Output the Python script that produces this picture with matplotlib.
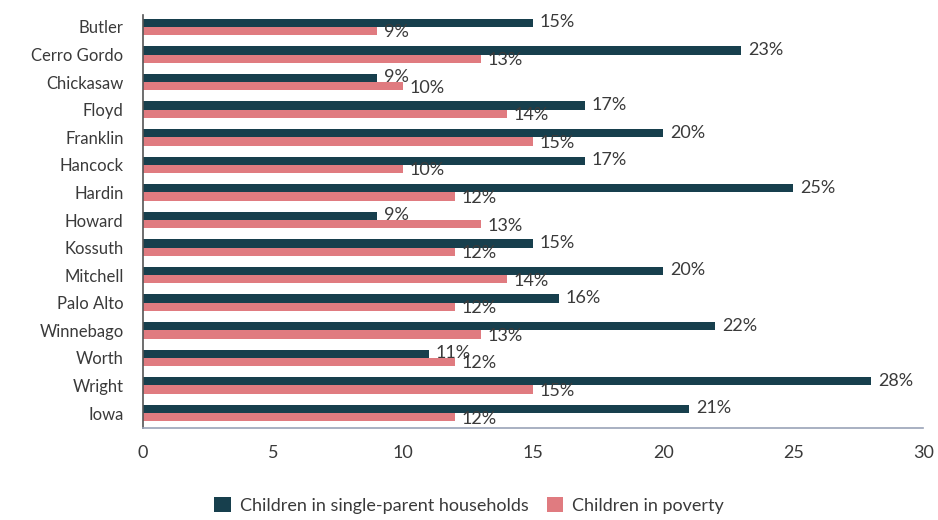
import numpy as np
import matplotlib.pyplot as plt
from matplotlib.patches import Patch

counties = ['Butler', 'Cerro Gordo', 'Chickasaw', 'Floyd', 'Franklin', 'Hancock',
            'Hardin', 'Howard', 'Kossuth', 'Mitchell', 'Palo Alto', 'Winnebago',
            'Worth', 'Wright', 'Iowa']
single_parent = [15, 23, 9, 17, 20, 17, 25, 9, 15, 20, 16, 22, 11, 28, 21]
poverty = [9, 13, 10, 14, 15, 10, 12, 13, 12, 14, 12, 13, 12, 15, 12]

dark = '#173f4d'
pink = '#e07b80'
text_color = '#3a3a3a'

plt.rcParams['font.family'] = ['Lato', 'DejaVu Sans']

fig = plt.figure(figsize=(9.38, 5.2), dpi=100)
ax = fig.add_axes([0.1525, 0.177, 0.832, 0.794])

y = np.arange(len(counties))
h = 0.3
ax.barh(y - h / 2, single_parent, height=h, color=dark, zorder=2)
ax.barh(y + h / 2, poverty, height=h, color=pink, zorder=2)

# value labels just past the end of each bar
for yi, a, b in zip(y, single_parent, poverty):
    ax.text(a + 0.25, yi - h / 2 - 0.02, f'{a}%', va='center', ha='left',
            fontsize=13, color=text_color, zorder=3)
    ax.text(b + 0.25, yi + h / 2 + 0.05, f'{b}%', va='center', ha='left',
            fontsize=13, color=text_color, zorder=3)

ax.set_xlim(0, 30)
ax.set_ylim(len(counties) - 0.46, -0.43)
ax.set_yticks(y)
ax.set_yticklabels(counties, fontsize=12, color=text_color)
ax.set_xticks([0, 5, 10, 15, 20, 25, 30])
ax.tick_params(axis='x', length=0, pad=12, labelsize=13, labelcolor=text_color)
ax.tick_params(axis='y', length=0, pad=14)

for side in ['top', 'right']:
    ax.spines[side].set_visible(False)
ax.spines['left'].set_color('#555555')
ax.spines['left'].set_linewidth(1.2)
ax.spines['bottom'].set_color('#9aa3b8')
ax.spines['bottom'].set_linewidth(1.2)

handles = [Patch(facecolor=dark, label='Children in single-parent households'),
           Patch(facecolor=pink, label='Children in poverty')]
fig.legend(handles=handles, loc='lower center', bbox_to_anchor=(0.5, -0.02),
           ncol=2, frameon=False, fontsize=13, handlelength=0.9,
           handleheight=0.9, handletextpad=0.5, columnspacing=1.0,
           labelcolor=text_color)

fig.savefig('out.png', dpi=100)
